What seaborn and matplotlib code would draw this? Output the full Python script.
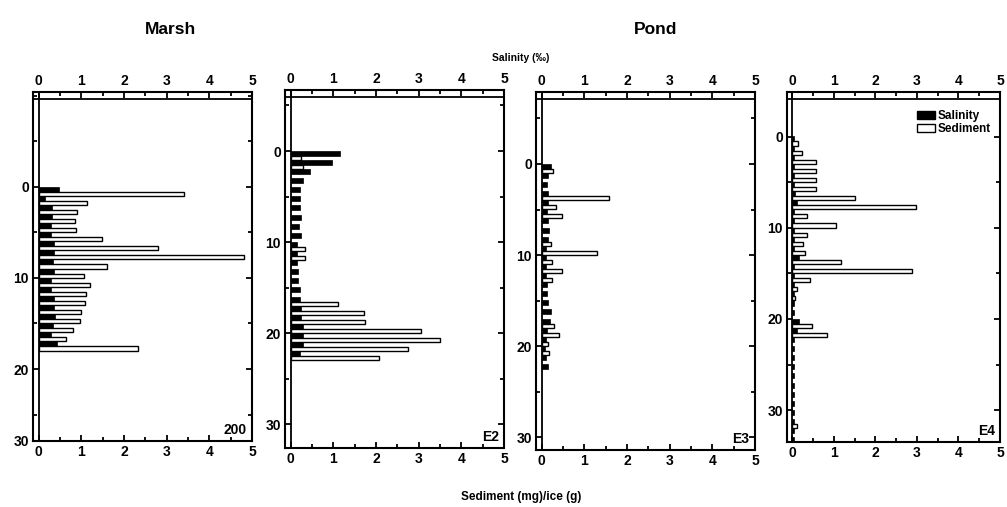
import numpy as np
import pandas as pd
import matplotlib
matplotlib.use('Agg')
import matplotlib.pyplot as plt
from matplotlib.patches import Patch
from matplotlib.ticker import MultipleLocator
import seaborn as sns

# core samples, 1 cm sections (depth of section top, cm)
stations = ['200', 'E2', 'E3', 'E4']

depth_200 = list(range(18))
salinity_200 = [0.47, 0.14, 0.31, 0.31, 0.30, 0.30, 0.36, 0.37, 0.33, 0.36,
                0.28, 0.30, 0.36, 0.36, 0.38, 0.33, 0.28, 0.43]
sediment_200 = [3.40, 1.14, 0.90, 0.86, 0.87, 1.48, 2.80, 4.81, 1.61, 1.07,
                1.21, 1.11, 1.09, 1.00, 0.97, 0.80, 0.64, 2.34]

depth_E2 = list(range(23))
salinity_E2 = [1.15, 0.98, 0.46, 0.28, 0.23, 0.23, 0.23, 0.25, 0.20, 0.25,
               0.15, 0.15, 0.15, 0.18, 0.18, 0.22, 0.22, 0.25, 0.25, 0.28,
               0.30, 0.28, 0.22]
sediment_E2 = [0.24, 0.30, 0, 0, 0, 0, 0, 0, 0, 0,
               0.33, 0.35, 0, 0, 0, 0, 1.10, 1.73, 1.75, 3.06,
               3.49, 2.76, 2.08]

depth_E3 = list(range(23))
salinity_E3 = [0.21, 0.15, 0.13, 0.15, 0.15, 0.12, 0.15, 0.17, 0.15, 0.10,
               0.10, 0.10, 0.10, 0.12, 0.13, 0.15, 0.23, 0.20, 0.12, 0.10,
               0.08, 0.10, 0.15]
sediment_E3 = [0.27, 0, 0, 1.58, 0.33, 0.49, 0, 0, 0.23, 1.31,
               0.25, 0.49, 0.25, 0, 0, 0, 0, 0.29, 0.41, 0.15,
               0.17, 0, 0]

depth_E4 = list(range(34))
salinity_E4 = [0.05, 0.04, 0.04, 0.04, 0.04, 0.04, 0.06, 0.10, 0.04, 0.04,
               0.04, 0.04, 0.05, 0.15, 0.05, 0.04, 0.04, 0.04, 0.04, 0.04,
               0.15, 0.12, 0.04, 0.05, 0.05, 0.05, 0.05, 0.05, 0.05, 0.05,
               0.04, 0.04, 0.04, 0.04]
sediment_E4 = [0.13, 0.24, 0.56, 0.57, 0.57, 0.57, 1.51, 2.98, 0.34, 1.04,
               0.34, 0.26, 0.31, 1.17, 2.87, 0.43, 0.12, 0.06, 0, 0,
               0.47, 0.84, 0, 0, 0, 0, 0, 0, 0, 0,
               0, 0.10, 0, 0]

depths = [depth_200, depth_E2, depth_E3, depth_E4]
salinity = [salinity_200, salinity_E2, salinity_E3, salinity_E4]
sediment = [sediment_200, sediment_E2, sediment_E3, sediment_E4]

# layout in pixels: left, top, right, bottom ; depth limits (bottom, top)
boxes = [(33, 92, 252, 441), (285, 90, 504, 448),
         (536, 92, 755, 450), (787, 92, 1000, 442)]
ylims = [(27.9, -10.4), (32.6, -6.7), (31.4, -7.9), (33.5, -4.9)]

sns.set_style('ticks')
plt.rcParams['font.family'] = ['Liberation Sans', 'DejaVu Sans']
plt.rcParams['font.weight'] = 'bold'
plt.rcParams['axes.linewidth'] = 1.5
for key in ['text.color', 'axes.labelcolor', 'axes.edgecolor', 'xtick.color', 'ytick.color']:
    plt.rcParams[key] = 'black'

W, H = 1007, 507
fig = plt.figure(figsize=(W / 100, H / 100), dpi=100)

for i, st in enumerate(stations):
    l, t, r, b = boxes[i]
    ax = fig.add_axes([l / W, 1 - b / H, (r - l) / W, (b - t) / H])

    d = np.array(depths[i], dtype=float)
    sal_df = pd.DataFrame({'depth': d + 0.25, 'value': salinity[i]})
    sed_df = pd.DataFrame({'depth': d + 0.75, 'value': sediment[i]})
    sed_df = sed_df[sed_df['value'] > 0]

    sns.barplot(data=sed_df, x='value', y='depth', orient='y', native_scale=True,
                width=0.45, color='white', edgecolor='black', linewidth=1.0,
                saturation=1, errorbar=None, ax=ax, zorder=2)
    sns.barplot(data=sal_df, x='value', y='depth', orient='y', native_scale=True,
                width=0.55, color='black', edgecolor='black', linewidth=0.5,
                saturation=1, errorbar=None, ax=ax, zorder=3)

    ybot, ytop = ylims[i]
    ax.set_xlim(-0.13, 5)
    ax.set_ylim(ybot, ytop)
    ax.set_xlabel('')
    ax.set_ylabel('')

    # inner frame lines (x = 0 and the top scale strip)
    ax.axvline(0, color='black', lw=1.3, zorder=4)
    ax.axhline(ytop + 0.75, color='black', lw=1.3, zorder=4)

    ax.xaxis.set_major_locator(MultipleLocator(1))
    ax.xaxis.set_minor_locator(MultipleLocator(0.5))
    ax.tick_params(axis='x', which='both', direction='in', top=True, bottom=True,
                   labeltop=True, labelbottom=True, labelsize=10, pad=3)
    if i == 0:
        ax.set_yticks([0, 10, 20, ybot], labels=['0', '10', '20', '30'])
    else:
        ax.set_yticks([0, 10, 20, 30])
    ax.yaxis.set_minor_locator(MultipleLocator(5))
    ax.tick_params(axis='y', which='both', direction='in', left=True, right=True,
                   labelsize=10, pad=3)
    ax.tick_params(which='major', length=4, width=1.3)
    ax.tick_params(which='minor', length=3, width=1.3)

    ax.text(0.975, 0.012, st, transform=ax.transAxes, ha='right', va='bottom',
            fontsize=10, fontweight='bold')

    if i == 3:
        handles = [Patch(facecolor='black', edgecolor='black', label='Salinity'),
                   Patch(facecolor='white', edgecolor='black', label='Sediment')]
        ax.legend(handles=handles, loc='upper right', bbox_to_anchor=(0.985, 0.965),
                  frameon=False, handlelength=1.6, handleheight=0.6,
                  handletextpad=0.2, labelspacing=0.1, borderpad=0,
                  prop={'weight': 'bold', 'size': 8.5})

fig.text(170 / W, 1 - 30 / H, 'Marsh', ha='center', va='center', fontsize=12.5, fontweight='bold')
fig.text(656 / W, 1 - 30 / H, 'Pond', ha='center', va='center', fontsize=12.5, fontweight='bold')
fig.text(521 / W, 1 - 58 / H, 'Salinity (‰)', ha='center', va='center', fontsize=7.5, fontweight='bold')
fig.text(521 / W, 1 - 497 / H, 'Sediment (mg)/ice (g)', ha='center', va='center', fontsize=8.5, fontweight='bold')

fig.savefig('out.png', dpi=100)
